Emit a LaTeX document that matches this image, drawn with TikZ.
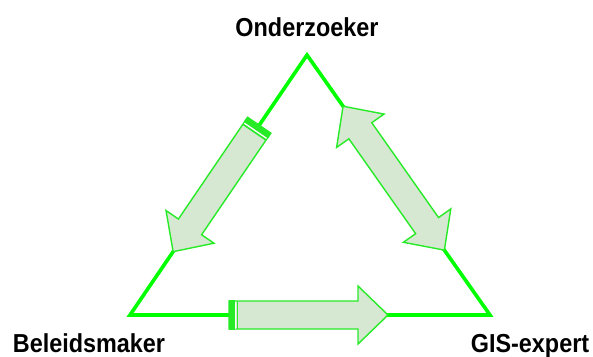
\documentclass[tikz,border=0pt]{standalone}
\usepackage{fontspec}
\setmainfont{Liberation Sans}
\usetikzlibrary{calc}
\definecolor{tri}{RGB}{0,255,0}
\definecolor{arrline}{RGB}{40,235,40}
\definecolor{arrfill}{RGB}{214,232,210}
\tikzset{
  triline/.style={draw=tri, line width=3.6pt, line join=miter},
  arrbody/.style={draw=arrline, fill=arrfill, line width=1.4pt, line join=miter},
  lbl/.style={anchor=base, inner sep=0pt, font=\fontsize{26}{28}\selectfont\bfseries, xscale=0.9}
}
\newcommand{\mysinglearrow}[3]{% start, angle, length
  \begin{scope}[shift={#1}, rotate=#2]
    \draw[arrbody] (0,-14) -- ({#3-30},-14) -- ({#3-30},-29) -- (#3,0) -- ({#3-30},29) -- ({#3-30},14) -- (0,14) -- cycle;
    \fill[arrline] (0,-14.7) rectangle (6,14.7);
    \draw[white, line width=1.2pt] (6.8,-13.5) -- (6.8,13.5);
    \draw[arrline, line width=1.6pt] (8.4,-14) -- (8.4,14);
  \end{scope}}
\newcommand{\mydoublearrow}[3]{% start, angle, length
  \begin{scope}[shift={#1}, rotate=#2]
    \draw[arrbody] (0,0) -- (30,29) -- (30,14) -- ({#3-30},14) -- ({#3-30},29) -- (#3,0) -- ({#3-30},-29) -- ({#3-30},-14) -- (30,-14) -- (30,-29) -- cycle;
  \end{scope}}
\begin{document}
\begin{tikzpicture}[x=1pt, y=1pt]
  \useasboundingbox[fill=white] (0,0) rectangle (593,356);
  % corners
  \coordinate (A) at (307,301);
  \coordinate (B) at (130,41);
  \coordinate (C) at (490,41);
  % triangle
  \draw[triline] (A) -- (B) -- (C) -- cycle;
  % arrows
  \mysinglearrow{($(A)!0.27!(B)$)}{235.76}{153}
  \mydoublearrow{($(A)!0.197!(C)$)}{-54.86}{176}
  \mysinglearrow{(229,41)}{0}{159}
  % labels
  \node[lbl] (onder) at (307,319) {Onderzoeker};
  \node[lbl] (beleid) at (89,4) {Beleidsmaker};
  \node[lbl] (gis) at (530,4) {GIS-expert};
\end{tikzpicture}
\end{document}
